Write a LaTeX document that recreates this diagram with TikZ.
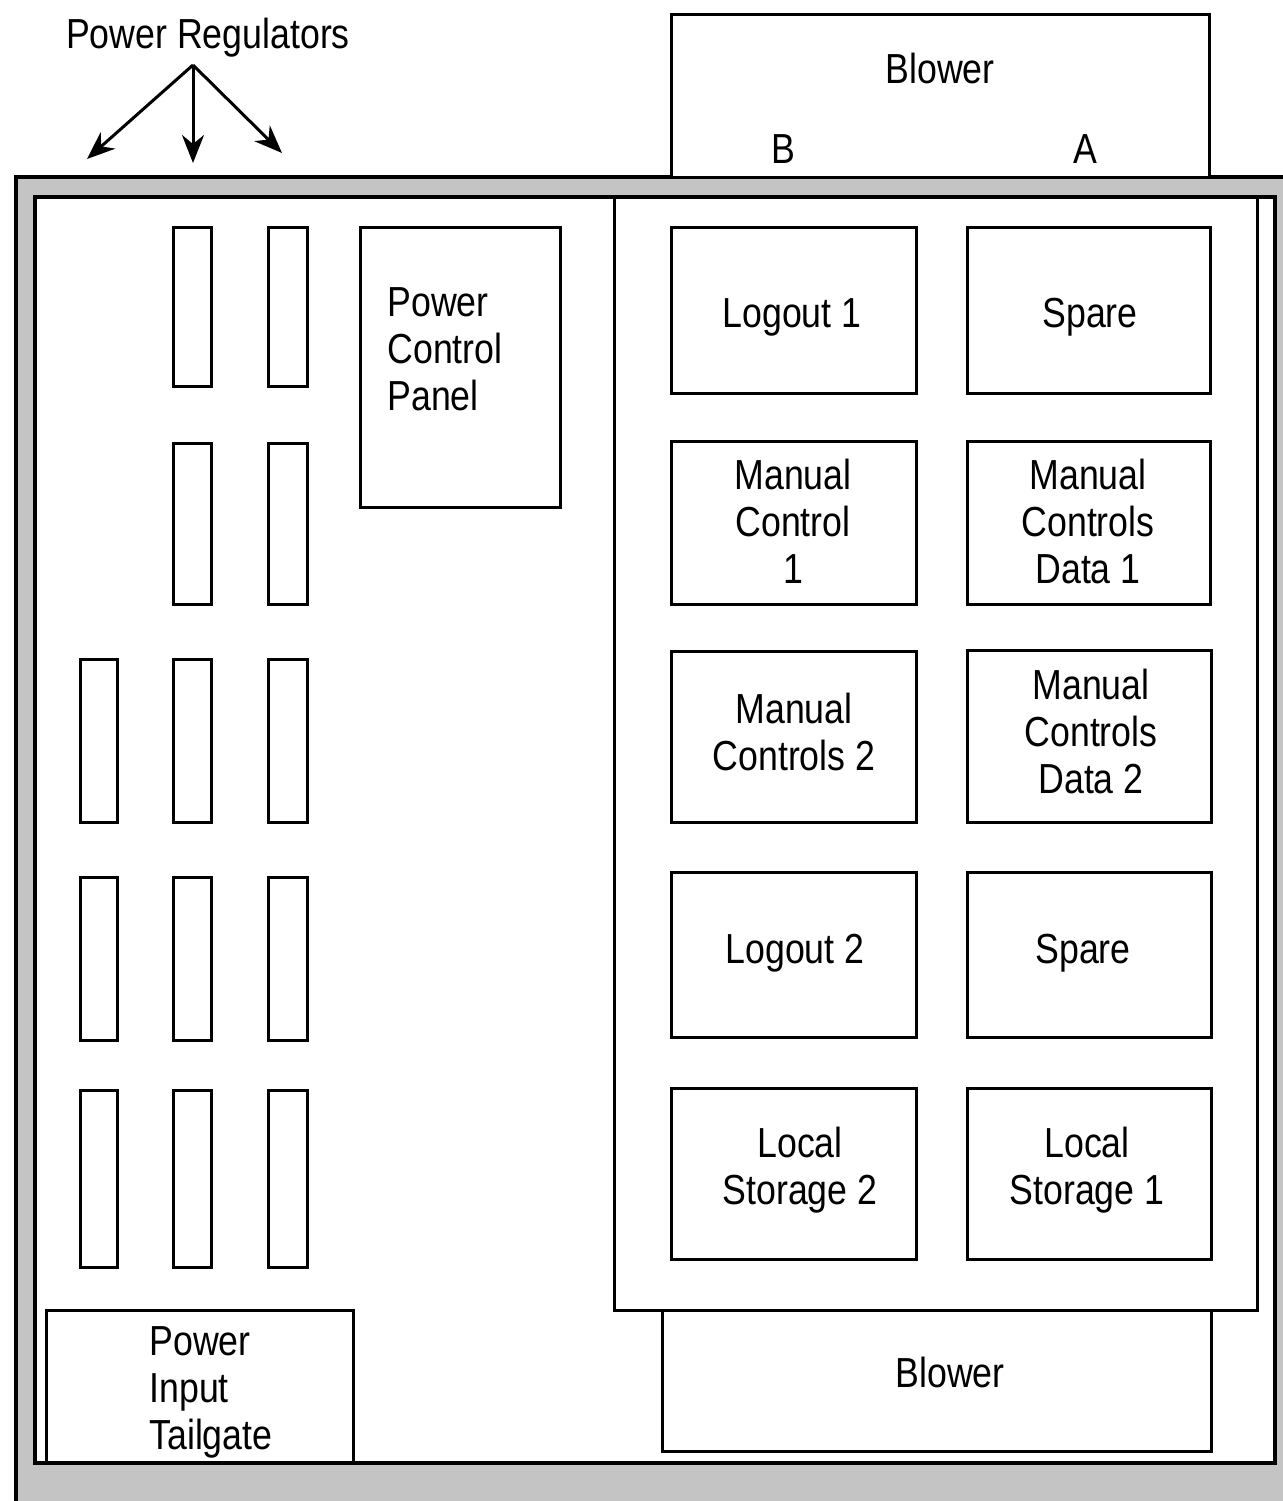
\documentclass[tikz,border=0pt]{standalone}
\usepackage{fontspec}
\setmainfont{Liberation Sans}[FakeStretch=0.85]
\usetikzlibrary{fit,arrows.meta}
\newcommand\lblfont{\fontsize{21}{23.5}\selectfont}
\definecolor{stipple}{gray}{0.77}
\begin{document}
\begin{tikzpicture}[x=0.5pt,y=-0.5pt,
  box/.style={draw, line width=1.5pt, inner sep=0pt},
  reg/.style={draw, line width=1.5pt, inner sep=0pt},
  frameline/.style={draw, line width=1.7pt},
  lbl/.style={font=\lblfont, inner sep=0pt, align=center, text height=15pt, text depth=0pt},
  arr/.style={line width=1.5pt, -{Stealth[length=14pt, width=11pt, inset=4.5pt]}}]
\useasboundingbox (0,0) rectangle (1283,1501);
% outer stippled frame
\begin{scope}
  \clip (0,0) rectangle (1283,1501);
  \draw[frameline, fill=stipple] (16,177) rectangle (1300,1530);
\end{scope}
\node[frameline, fill=white, inner sep=0pt, fit={(35,197) (1275,1463)}] (inner) {};
% blowers
\node[box, fill=white, fit={(671,14) (1209,177)}] (blowtop) {};
\node[lbl] (blowtoptxt) at (940,68) {Blower};
\node[lbl] (labB) at (783,148) {B};
\node[lbl] (labA) at (1085,148) {A};
\node[box, fit={(614,197) (1257,1310)}] (panel) {};
\node[box, fit={(662,1310) (1211,1451)}] (blowbot) {};
\node[lbl] (blowbottxt) at (950,1372) {Blower};
% title and arrows
\node[lbl] (title) at (208,33) {Power Regulators};
\coordinate (apex) at (193,65);
\coordinate (t1) at (87,159);
\coordinate (t2) at (193,163);
\coordinate (t3) at (282,153);
\draw[arr] (apex) -- (t1);
\draw[arr] (apex) -- (t2);
\draw[arr] (apex) -- (t3);
% regulators
\foreach \c/\xa/\xb in {1/80/117, 2/173/211, 3/268/307}{
  \foreach \r/\ya/\yb in {3/659/822, 4/877/1040, 5/1090/1267}{
    \node[reg, fit={(\xa,\ya) (\xb,\yb)}] (reg\c\r) {};
  }
}
\foreach \c/\xa/\xb in {2/173/211, 3/268/307}{
  \foreach \r/\ya/\yb in {1/227/386, 2/443/604}{
    \node[reg, fit={(\xa,\ya) (\xb,\yb)}] (reg\c\r) {};
  }
}
% power control panel
\node[box, fit={(360,227) (560,507)}] (pcp) {};
\node[lbl, anchor=west, align=left] (pcptxt) at (387,395) {Power\\Control\\Panel};
% power input tailgate
\node[box, fit={(46,1310) (353,1463)}] (pit) {};
\node[lbl, anchor=west, align=left] (pittxt) at (149,1434) {Power\\Input\\Tailgate};
% card boxes
\node[box, fit={(671,227) (916,393)}] (lo1) {};
\node[box, fit={(967,227) (1210,393)}] (sp1) {};
\node[box, fit={(671,441) (916,604)}] (mc1) {};
\node[box, fit={(967,441) (1210,604)}] (mcd1) {};
\node[box, fit={(671,651) (916,822)}] (mc2) {};
\node[box, fit={(967,650) (1211,822)}] (mcd2) {};
\node[box, fit={(671,872) (916,1037)}] (lo2) {};
\node[box, fit={(967,872) (1211,1037)}] (sp2) {};
\node[box, fit={(671,1088) (916,1259)}] (ls2) {};
\node[box, fit={(967,1088) (1211,1259)}] (ls1) {};
\node[lbl] (lo1txt) at (792,312) {Logout 1};
\node[lbl] (sp1txt) at (1090,312) {Spare};
\node[lbl] (mc1txt) at (793,568) {Manual\\Control\\1};
\node[lbl] (mcd1txt) at (1088,568) {Manual\\Controls\\Data 1};
\node[lbl] (mc2txt) at (794,755) {Manual\\Controls 2};
\node[lbl] (mcd2txt) at (1091,778) {Manual\\Controls\\Data 2};
\node[lbl] (lo2txt) at (795,948) {Logout 2};
\node[lbl] (sp2txt) at (1083,948) {Spare};
\node[lbl] (ls2txt) at (800,1189) {Local\\Storage 2};
\node[lbl] (ls1txt) at (1087,1189) {Local\\Storage 1};
\end{tikzpicture}
\end{document}
